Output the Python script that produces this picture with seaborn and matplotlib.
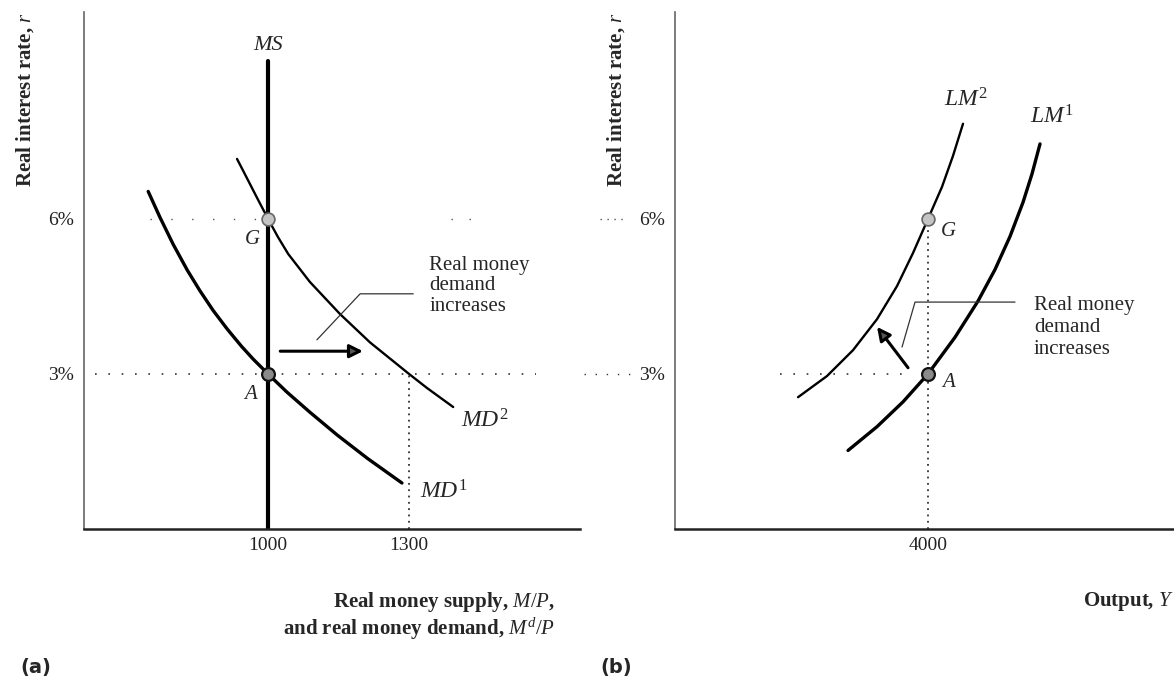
import numpy as np
import pandas as pd
import matplotlib
matplotlib.use('Agg')
import matplotlib.pyplot as plt
import seaborn as sns

# ── values ────────────────────────────────────────────────────────────────────
# (a) money market
md1_x = [745, 770, 798, 828, 855, 883, 913, 943, 968, 1000,
         1040, 1089, 1147, 1211, 1285]
md1_y = [6.53, 6.03, 5.51, 5.01, 4.61, 4.23, 3.87, 3.54, 3.29, 3.0,
         2.65, 2.26, 1.82, 1.37, 0.89]
md2_x = [934, 955, 977, 1000, 1021, 1043, 1089, 1153, 1217, 1300, 1338, 1394]
md2_y = [7.16, 6.79, 6.40, 6.0, 5.65, 5.32, 4.78, 4.16, 3.61, 3.0, 2.73, 2.36]
ms_x = [1000, 1000]
ms_y = [0.0, 9.06]
money_ticks = [1000, 1300]

# (b) LM curves
lm1_x = [3360, 3592, 3800, 4000, 4216, 4400, 4536, 4656, 4760, 4832, 4896]
lm1_y = [1.52, 1.98, 2.46, 3.0, 3.71, 4.41, 5.02, 5.66, 6.32, 6.87, 7.45]
lm2_x = [2960, 3192, 3400, 3592, 3752, 3880, 4000, 4112, 4200, 4280]
lm2_y = [2.55, 2.96, 3.46, 4.06, 4.70, 5.34, 6.0, 6.62, 7.22, 7.84]
output_ticks = [4000]

rate_ticks = [3, 6]
rate_labels = ['3%', '6%']

sns.set_theme(style='white')
plt.rcParams['font.family'] = ['Liberation Serif', 'DejaVu Serif']
plt.rcParams['mathtext.fontset'] = 'custom'
plt.rcParams['mathtext.rm'] = 'Liberation Serif'
plt.rcParams['mathtext.it'] = 'Liberation Serif:italic'
plt.rcParams['mathtext.bf'] = 'Liberation Serif:bold'

FS = 15
DOT = (0, (1, 2.5))
SPARSE = (0, (1, 7))
HEAD = dict(arrowstyle='-|>', lw=2.2, edgecolor='black', facecolor='#555555',
            mutation_scale=20, shrinkA=0, shrinkB=0)

fig = plt.figure(figsize=(11.74, 6.82), dpi=100)
ax1 = fig.add_axes([0.0716, 0.2243, 0.4225, 0.758])
ax2 = fig.add_axes([0.575, 0.2243, 0.425, 0.758])

for ax in (ax1, ax2):
    sns.despine(ax=ax)
    ax.spines['left'].set_color('#666666')
    ax.spines['left'].set_linewidth(1.2)
    ax.spines['bottom'].set_color('#222222')
    ax.spines['bottom'].set_linewidth(1.8)
    ax.set_ylim(0, 10)
    ax.set_yticks(rate_ticks)
    ax.set_yticklabels(rate_labels)
    ax.tick_params(axis='both', length=0, labelsize=FS - 1, colors='#222222')
    ax.tick_params(axis='y', pad=7)
    ax.tick_params(axis='x', pad=6)
    ax.set_ylabel('Real interest rate, $r$', fontsize=FS, fontweight='bold',
                  loc='top')

# ── (a) ───────────────────────────────────────────────────────────────────────
ax1.set_xlim(608.5, 1664)
ax1.set_xticks(money_ticks)
ax1.yaxis.set_label_coords(-0.096, 1.0)

ax1.hlines(3, 632, 1570, colors='#333333', lw=1.2, linestyles=SPARSE, clip_on=False)
ax1.hlines(6, 749, 1000, colors='#555555', lw=1.0, linestyles=(0, (1, 14)))
ax1.hlines(6, 1390, 1440, colors='#555555', lw=1.0, linestyles=(0, (1, 12)))
ax1.vlines(1300, 0, 3, colors='#333333', lw=1.3, linestyles=DOT)

sns.lineplot(x=ms_x, y=ms_y, ax=ax1, color='black', lw=3.0,
             sort=False, estimator=None)
sns.lineplot(x=md1_x, y=md1_y, ax=ax1, color='black', lw=2.4,
             sort=False, estimator=None)
sns.lineplot(x=md2_x, y=md2_y, ax=ax1, color='black', lw=1.7,
             sort=False, estimator=None)

sns.scatterplot(x=[1000], y=[6], ax=ax1, s=85, color='#c4c4c4',
                edgecolor='#666666', linewidth=1.2, zorder=5)
sns.scatterplot(x=[1000], y=[3], ax=ax1, s=85, color='#8a8a8a',
                edgecolor='#111111', linewidth=1.6, zorder=5)

ax1.text(1000, 9.36, 'MS', fontsize=FS + 1, fontstyle='italic', ha='center', va='center')
ax1.text(966, 5.6, 'G', fontsize=FS, fontstyle='italic', ha='center', va='center')
ax1.text(962, 2.6, 'A', fontsize=FS, fontstyle='italic', ha='center', va='center')
ax1.text(1462, 2.1, '$MD^2$', fontsize=FS + 2, ha='center', va='center')
ax1.text(1374, 0.72, '$MD^1$', fontsize=FS + 2, ha='center', va='center')

ax1.text(1343, 5.28, 'Real money\ndemand\nincreases', fontsize=FS,
         ha='left', va='top', linespacing=1.1)
ax1.plot([1309, 1196, 1104], [4.55, 4.55, 3.66], color='#333333', lw=0.9)
ax1.annotate('', xy=(1202, 3.44), xytext=(1026, 3.44), arrowprops=HEAD)

ax1.set_xlabel('Real money supply, $M/P$,\nand real money demand, $M^d/P$',
               fontsize=FS, fontweight='bold', loc='right', linespacing=1.1)
ax1.xaxis.set_label_coords(0.95, -0.118)

# ── (b) ───────────────────────────────────────────────────────────────────────
ax2.set_xlim(1976, 5968)
ax2.set_xticks(output_ticks)
ax2.yaxis.set_label_coords(-0.096, 1.0)

ax2.hlines(3, 2816, 3832, colors='#333333', lw=1.2, linestyles=SPARSE)
ax2.hlines(3, 1248, 1624, colors='#333333', lw=1.0, linestyles=SPARSE, clip_on=False)
ax2.hlines(6, 1376, 1576, colors='#555555', lw=1.0, linestyles=(0, (1, 4)), clip_on=False)
ax2.vlines(4000, 0, 6, colors='#333333', lw=1.3, linestyles=DOT)

sns.lineplot(x=lm1_x, y=lm1_y, ax=ax2, color='black', lw=2.4,
             sort=False, estimator=None)
sns.lineplot(x=lm2_x, y=lm2_y, ax=ax2, color='black', lw=1.7,
             sort=False, estimator=None)

sns.scatterplot(x=[4000], y=[6], ax=ax2, s=85, color='#c4c4c4',
                edgecolor='#666666', linewidth=1.2, zorder=5)
sns.scatterplot(x=[4000], y=[3], ax=ax2, s=85, color='#8a8a8a',
                edgecolor='#111111', linewidth=1.6, zorder=5)

ax2.text(4300, 8.3, '$LM^2$', fontsize=FS + 2, ha='center', va='center')
ax2.text(4990, 7.98, '$LM^1$', fontsize=FS + 2, ha='center', va='center')
ax2.text(4160, 5.75, 'G', fontsize=FS, fontstyle='italic', ha='center', va='center')
ax2.text(4160, 2.83, 'A', fontsize=FS, fontstyle='italic', ha='center', va='center')

ax2.text(4848, 4.5, 'Real money\ndemand\nincreases', fontsize=FS,
         ha='left', va='top', linespacing=1.2)
ax2.plot([4696, 3896, 3792], [4.39, 4.39, 3.52], color='#333333', lw=0.9)
ax2.annotate('', xy=(3592, 3.91), xytext=(3840, 3.12), arrowprops=HEAD)

ax2.set_xlabel('Output, $Y$', fontsize=FS, fontweight='bold', loc='right')
ax2.xaxis.set_label_coords(1.0, -0.118)

fig.text(20 / 1174, 1 - 667 / 682, '(a)', fontsize=FS - 1, fontweight='bold',
         family=['DejaVu Sans'], ha='left', va='center')
fig.text(600 / 1174, 1 - 667 / 682, '(b)', fontsize=FS - 1, fontweight='bold',
         family=['DejaVu Sans'], ha='left', va='center')

fig.savefig('out.png', dpi=100)
plt.close(fig)
